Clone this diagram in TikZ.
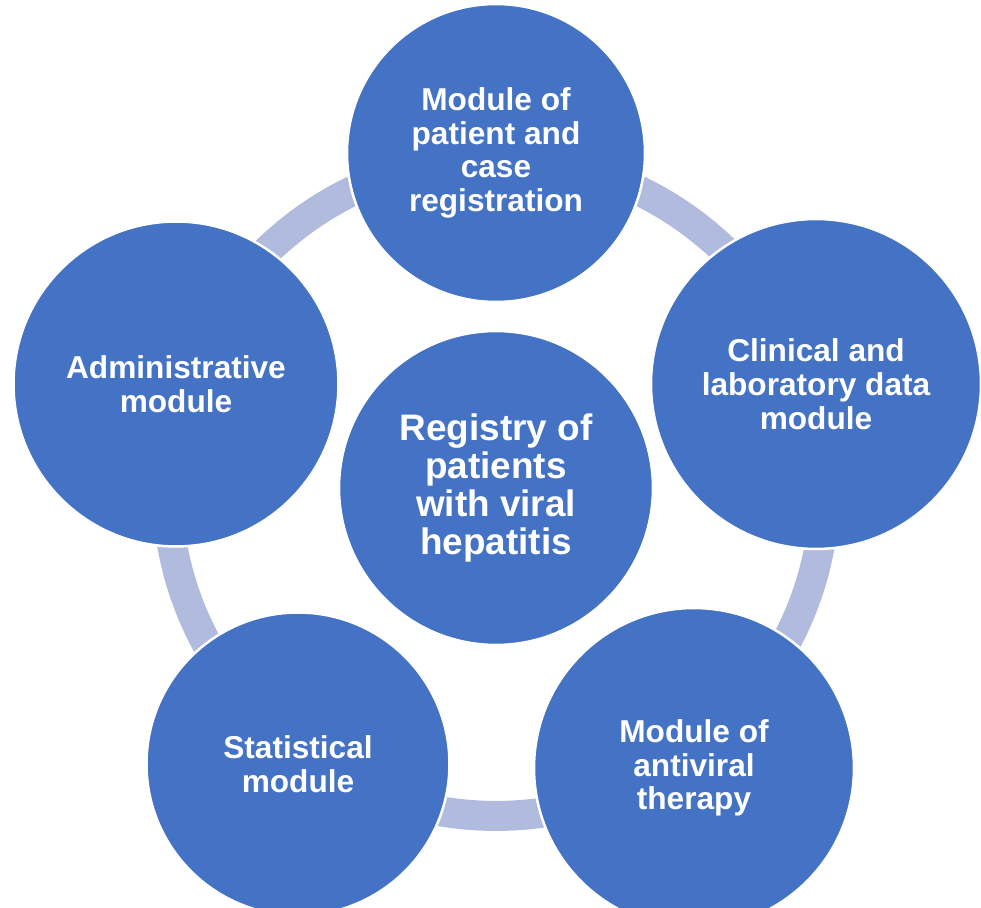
\documentclass[tikz,border=0pt]{standalone}
\usepackage{fontspec}
\setmainfont{Liberation Sans}
\definecolor{modblue}{HTML}{4472C4}
\definecolor{ringblue}{HTML}{B0BBDE}

\begin{document}
\begin{tikzpicture}[x=0.02cm,y=-0.02cm]
	\tikzset{every node/.style={circle, fill=modblue, draw=white, line width=0.05cm, inner sep=0pt, align=center, text=white, font=\bfseries\fontsize{18}{19.2}\selectfont}}

	\useasboundingbox (0,0) rectangle (981,908);

	\coordinate (hub) at (496,487);
	\draw [ringblue, line width=0.6cm] (hub) circle [radius=6.58cm];

	\node (reg) [minimum size=6.28cm, font=\bfseries\fontsize{21}{21.7}\selectfont] at (496,488) {Registry of\\patients\\with viral\\hepatitis};

	\node (case)  [minimum size=5.96cm] at (496,153) {Module of\\patient and\\case\\registration};
	\node (clin)  [minimum size=6.6cm]  at (816,384) {Clinical and\\laboratory data\\module};
	\node (ther)  [minimum size=6.4cm]  at (694,768) {Module of\\antiviral\\therapy};
	\node (stat)  [minimum size=6.06cm] at (298,764) {Statistical\\module};
	\node (admin) [minimum size=6.5cm]  at (176,384) {Administrative\\module};
\end{tikzpicture}
\end{document}
